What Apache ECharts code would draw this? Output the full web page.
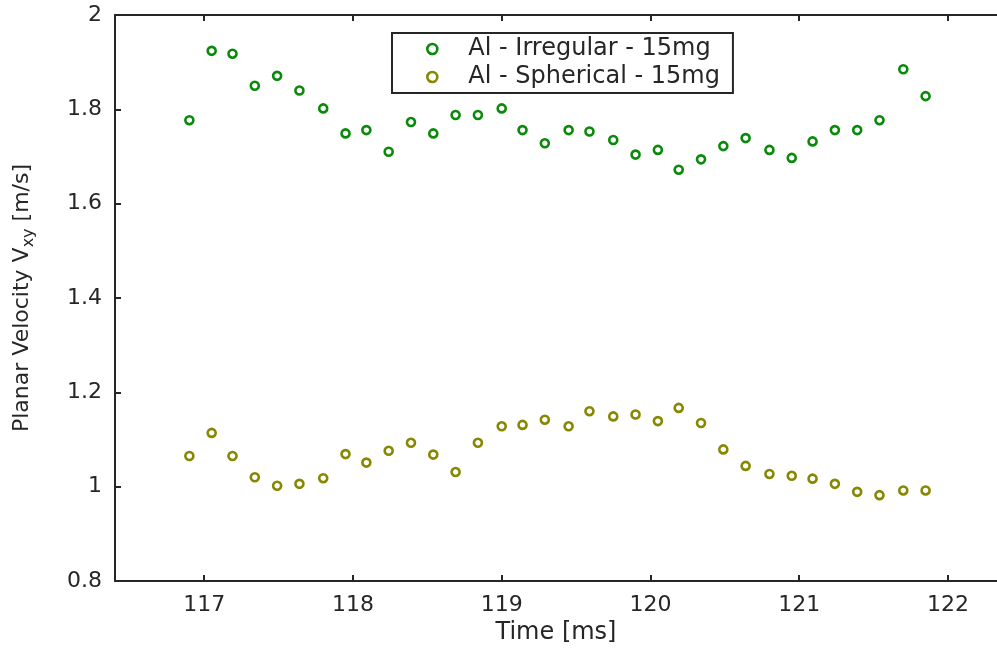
<!DOCTYPE html>
<html>
<head>
<meta charset="utf-8">
<script src="https://cdn.jsdelivr.net/npm/echarts@6/dist/echarts.min.js"></script>
<style>
html,body{margin:0;padding:0;background:#fff;}
#chart{width:997px;height:652px;}
</style>
</head>
<body>
<div id="chart"></div>
<script>
// ---- data ----
const timeMs = [116.90, 117.05, 117.19, 117.34, 117.49, 117.64, 117.80, 117.95, 118.09, 118.24,
  118.39, 118.54, 118.69, 118.84, 119.00, 119.14, 119.29, 119.45, 119.59, 119.75,
  119.90, 120.05, 120.19, 120.34, 120.49, 120.64, 120.80, 120.95, 121.09, 121.24,
  121.39, 121.54, 121.70, 121.85];
const irregular = [1.777, 1.924, 1.918, 1.850, 1.871, 1.840, 1.802, 1.749, 1.756, 1.710,
  1.773, 1.749, 1.788, 1.788, 1.802, 1.756, 1.728, 1.756, 1.753, 1.735,
  1.704, 1.714, 1.672, 1.694, 1.722, 1.739, 1.714, 1.697, 1.732, 1.756,
  1.756, 1.777, 1.885, 1.828];
const spherical = [1.065, 1.114, 1.065, 1.020, 1.002, 1.006, 1.018, 1.069, 1.051, 1.076,
  1.093, 1.068, 1.031, 1.093, 1.128, 1.131, 1.142, 1.128, 1.160, 1.149,
  1.153, 1.139, 1.167, 1.135, 1.079, 1.044, 1.027, 1.023, 1.017, 1.006,
  0.989, 0.982, 0.992, 0.992];
const seriesNames = ['Al - Irregular - 15mg', 'Al - Spherical - 15mg'];
const xTicks = [117, 118, 119, 120, 121, 122];
const xRange = [116.4, 122.33];
const yRange = [0.8, 2];
const yStep = 0.2;

// ---- chart ----
const FONT = 'DejaVu Sans';
const INK = '#262626';
const colors = ['#0a8a0a', '#878700'];
const chart = echarts.init(document.getElementById('chart'), null, {renderer: 'canvas'});

function pairs(xs, ys) { return xs.map((x, i) => [x, ys[i]]); }

const axisLine = {show: true, lineStyle: {color: INK, width: 2}};
function ring(c) {
  return {color: '#ffffff', borderColor: c, borderWidth: 2.6, opacity: 1};
}
const option = {
  backgroundColor: '#fff',
  animation: false,
  grid: {left: 115, top: 15, right: 0, bottom: 71, containLabel: false},
  legend: {
    orient: 'vertical', left: 392, top: 33,
    padding: [4, 13, 4, 34],
    itemWidth: 10, itemHeight: 10, itemGap: 4,
    borderColor: INK, borderWidth: 2,
    textStyle: {fontFamily: FONT, fontSize: 24, color: INK, lineHeight: 24, padding: [0, 0, 0, 26]},
    data: [
      {name: seriesNames[0], icon: 'circle', itemStyle: ring(colors[0])},
      {name: seriesNames[1], icon: 'circle', itemStyle: ring(colors[1])}
    ]
  },
  xAxis: [{
    type: 'value', position: 'bottom', min: xRange[0], max: xRange[1],
    axisLine: axisLine,
    axisTick: {show: true, inside: true, length: 6, lineStyle: {color: INK, width: 2}, customValues: xTicks},
    axisLabel: {fontFamily: FONT, fontSize: 22, color: INK, margin: 13, customValues: xTicks},
    splitLine: {show: false},
    name: 'Time [ms]', nameLocation: 'middle', nameGap: 40,
    nameTextStyle: {fontFamily: FONT, fontSize: 24, color: INK}
  }, {
    type: 'value', position: 'top', min: xRange[0], max: xRange[1],
    axisLine: axisLine,
    axisTick: {show: true, inside: true, length: 6, lineStyle: {color: INK, width: 2}, customValues: xTicks},
    axisLabel: {show: false},
    splitLine: {show: false}
  }],
  yAxis: [{
    type: 'value', min: yRange[0], max: yRange[1], interval: yStep,
    axisLine: axisLine,
    axisTick: {show: true, inside: true, length: 6, lineStyle: {color: INK, width: 2}},
    axisLabel: {fontFamily: FONT, fontSize: 22, color: INK, margin: 13,
      formatter: v => String(Math.round(v * 10) / 10)},
    splitLine: {show: false},
    name: '{a|Planar Velocity V}{s|xy}{a| [m/s]}',
    nameLocation: 'middle', nameGap: 78, nameRotate: 90,
    nameTextStyle: {
      fontFamily: FONT, fontSize: 22, color: INK,
      rich: {
        a: {fontFamily: FONT, fontSize: 22, color: INK},
        s: {fontFamily: FONT, fontSize: 16, color: INK, padding: [14, 0, 0, 0]}
      }
    }
  }],
  series: [{
    name: seriesNames[0], type: 'scatter', symbol: 'circle', symbolSize: 8,
    itemStyle: ring(colors[0]),
    data: pairs(timeMs, irregular)
  }, {
    name: seriesNames[1], type: 'scatter', symbol: 'circle', symbolSize: 8,
    itemStyle: ring(colors[1]),
    data: pairs(timeMs, spherical)
  }]
};
chart.setOption(option);
</script>
</body>
</html>
